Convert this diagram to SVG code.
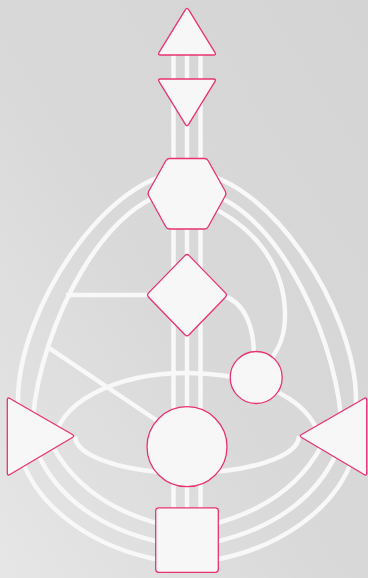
<svg xmlns="http://www.w3.org/2000/svg" width="368" height="578" viewBox="0 0 368 578">
  <defs>
    <linearGradient id="bg" x1="0" y1="1" x2="1" y2="0">
      <stop offset="0" stop-color="#e6e6e6"/>
      <stop offset="0.45" stop-color="#d9d9d9"/>
      <stop offset="1" stop-color="#d4d4d4"/>
    </linearGradient>
  </defs>
  <style>
    .ch { fill: none; stroke: #f8f8f8; stroke-width: 4.5; }
    .c { fill: #f7f7f7; stroke: #e8336e; stroke-width: 1.3; stroke-linejoin: round; }
  </style>
  <rect x="0" y="0" width="368" height="578" fill="url(#bg)"/>

  <g id="connectors">
    <line class="ch" x1="173.5" y1="50" x2="173.5" y2="512"/>
    <line class="ch" x1="187" y1="50" x2="187" y2="512"/>
    <line class="ch" x1="200.5" y1="50" x2="200.5" y2="512"/>
    <path class="ch" d="M18,408 L18,400 C18,310 107,172 187,172 C267,172 356,310 356,400 L356,408"/>
    <path class="ch" d="M33,418 C40,330 105,190 187,190 C269,190 334,330 341,418"/>
    <path class="ch" d="M205,204 C250,224 285,262 285,315 C285,335 280,348 270,360"/>
    <path class="ch" d="M222,295 C244,302 254,325 254,356"/>
    <path class="ch" d="M66,295 H150"/>
    <path class="ch" d="M47,346.7 L165,426"/>
    <path class="ch" d="M55,443 A132,70 0 0 1 319,443"/>
    <path class="ch" d="M75,436 A112,37 0 0 0 299,436"/>
    <path class="ch" d="M22,460 C40,510 95,548 160,560"/>
    <path class="ch" d="M37,452 C58,500 105,530 160,542"/>
    <path class="ch" d="M52,445 C75,488 115,512 160,524"/>
    <path class="ch" d="M352,460 C334,510 279,548 214,560"/>
    <path class="ch" d="M337,452 C316,500 269,530 214,542"/>
    <path class="ch" d="M322,445 C299,488 259,512 214,524"/>
  </g>

  <g id="head">
    <path class="c" d="M188.6,9.6 L214.9,52.4 Q216.5,55 213.5,55 L160.5,55 Q157.5,55 159.1,52.4 L185.4,9.6 Q187,7 188.6,9.6 Z"/>
  </g>
  <g id="ajna">
    <path class="c" d="M160.5,79 L213.5,79 Q216.5,79 214.9,81.6 L188.6,124.4 Q187,127 185.4,124.4 L159.1,81.6 Q157.5,79 160.5,79 Z"/>
  </g>
  <g id="throat">
    <path class="c" d="M169.5,158.5 L204.5,158.5 Q207,158.5 208.2,160.7 L225.3,191.3 Q226.5,193.5 225.3,195.7 L208.2,226.8 Q207,229 204.5,229 L169.5,229 Q167,229 165.8,226.8 L148.7,195.7 Q147.5,193.5 148.7,191.3 L165.8,160.7 Q167,158.5 169.5,158.5 Z"/>
  </g>
  <g id="g-center">
    <path class="c" d="M189.1,255.6 L225.4,292.9 Q227.5,295 225.4,297.2 L189.1,334.8 Q187,337 184.9,334.8 L148.6,297.2 Q146.5,295 148.6,292.9 L184.9,255.6 Q187,253.5 189.1,255.6 Z"/>
  </g>
  <g id="heart">
    <circle class="c" cx="256.2" cy="377.5" r="26"/>
  </g>
  <g id="spleen">
    <path class="c" d="M9.9,398.5 L72.4,434.5 Q75,436 72.4,437.5 L9.9,474.5 Q7.3,476 7.3,473 L7.3,400 Q7.3,397 9.9,398.5 Z"/>
  </g>
  <g id="solar-plexus">
    <path class="c" d="M364.1,398.5 L301.6,434.5 Q299,436 301.6,437.5 L364.1,474.5 Q366.7,476 366.7,473 L366.7,400 Q366.7,397 364.1,398.5 Z"/>
  </g>
  <g id="sacral">
    <circle class="c" cx="187" cy="446.7" r="40"/>
  </g>
  <g id="root">
    <rect class="c" x="155.7" y="507.8" width="62.6" height="64.5" rx="3"/>
  </g>
</svg>
